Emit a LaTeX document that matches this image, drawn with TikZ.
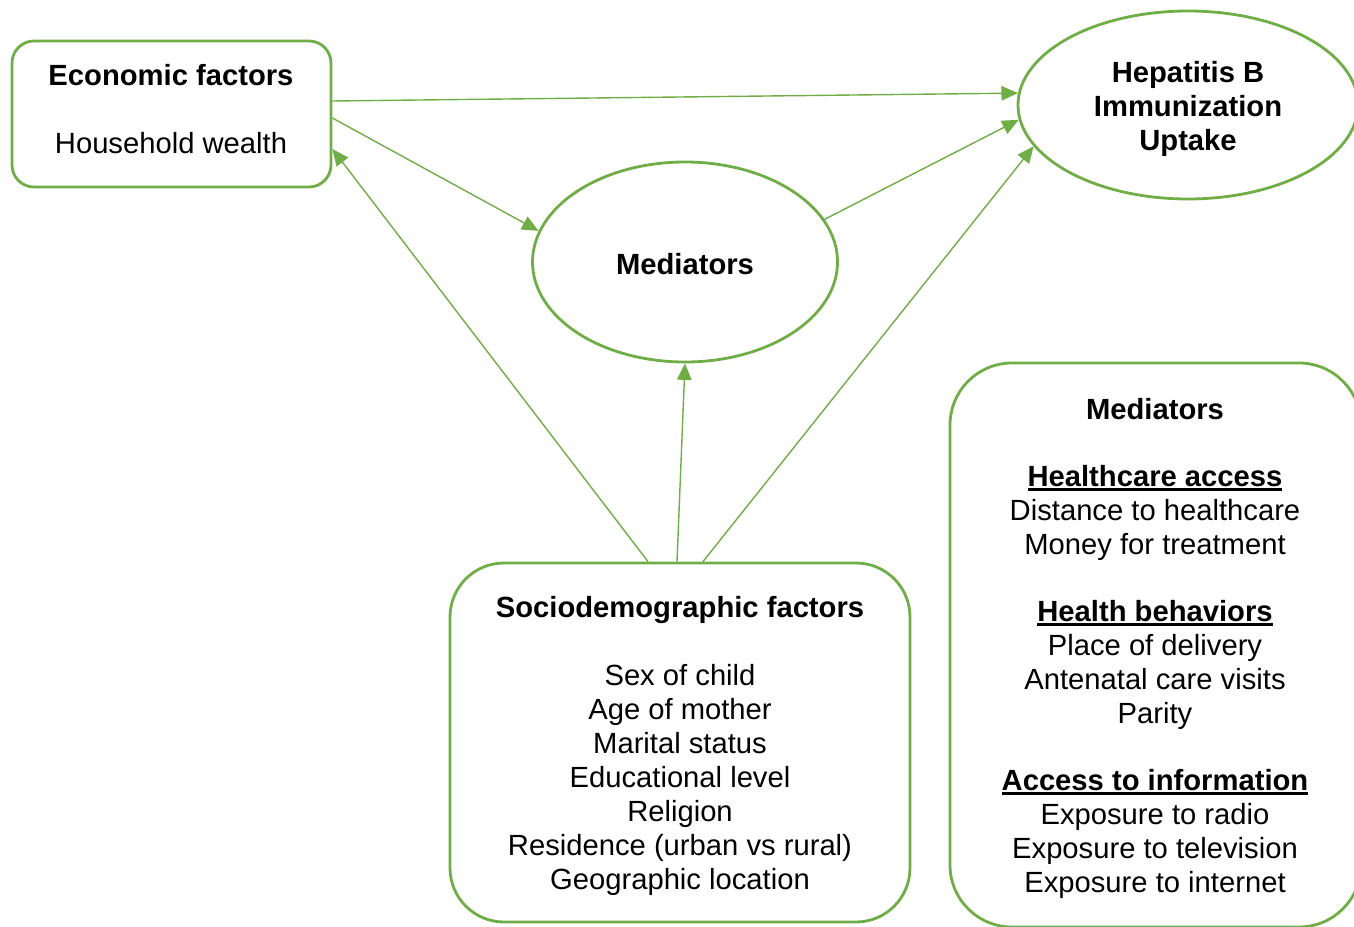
\documentclass[tikz,border=0pt]{standalone}
\usepackage{fontspec}
\setmainfont{Liberation Sans}
\usetikzlibrary{arrows.meta,shapes.geometric}
\definecolor{gr}{HTML}{70AD47}
\newcommand\myul[1]{\setbox0\hbox{#1}\rlap{\rule[-4.5pt]{\wd0}{2.2pt}}\box0}
\begin{document}
\begin{tikzpicture}[x=1pt,y=-1pt,
  shp/.style={draw=gr,line width=2.8pt,inner sep=0pt},
  rbox/.style={shp,rectangle,rounded corners=#1},
  ell/.style={shp,ellipse},
  txt/.style={align=center,inner sep=0pt,anchor=base,font=\fontsize{29.2}{34}\selectfont},
  arr/.style={draw=gr,line width=1.4pt,-{Triangle[length=16.5pt,width=14.5pt]}}]
\useasboundingbox (0,0) rectangle (1354,926);
\clip (0,0) rectangle (1354,926);

\node[rbox=22pt,minimum width=319pt,minimum height=146pt] (econ) at (171.5,114) {};
\node[ell,minimum width=340pt,minimum height=188pt] (hep) at (1188,105) {};
\node[ell,minimum width=305pt,minimum height=200pt] (med) at (685,262) {};
\node[rbox=54pt,minimum width=460pt,minimum height=359pt] (soc) at (680,742.5) {};
\node[rbox=62pt,minimum width=411pt,minimum height=564pt] (mbox) at (1155.5,645) {};

% anchor=base of a multi-line node is the baseline of its last line
\node[txt] (econt) at (171,153.5) {\textbf{Economic factors}\\[34pt] Household wealth};
\node[txt] (hept) at (1188,150) {\textbf{Hepatitis B}\\ \textbf{Immunization}\\ \textbf{Uptake}};
\node[txt] (medt) at (685,274) {\textbf{Mediators}};
\node[txt] (soct) at (680,889) {\textbf{Sociodemographic factors}\\[34pt]
  Sex of child\\ Age of mother\\ Marital status\\ Educational level\\ Religion\\
  Residence (urban vs rural)\\ Geographic location};
\node[txt] (mboxt) at (1155,892) {\textbf{Mediators}\\[33pt]
  \myul{\textbf{Healthcare access}}\\ Distance to healthcare\\ Money for treatment\\[33pt]
  \myul{\textbf{Health behaviors}}\\ Place of delivery\\ Antenatal care visits\\ Parity\\[33pt]
  \myul{\textbf{Access to information}}\\ Exposure to radio\\ Exposure to television\\ Exposure to internet};

\draw[arr] ([yshift=13pt]econ.east) -- (hep.176);
\draw[arr] ([yshift=-4pt]econ.east) -- (med.168);
\draw[arr] (med.17) -- (hep.185);
\draw[arr] ([xshift=-32pt]soc.north) -- ([yshift=-35pt]econ.east);
\draw[arr] ([xshift=-3pt]soc.north) -- (med.south);
\draw[arr] ([xshift=23pt]soc.north) -- (hep.195);
\end{tikzpicture}
\end{document}
